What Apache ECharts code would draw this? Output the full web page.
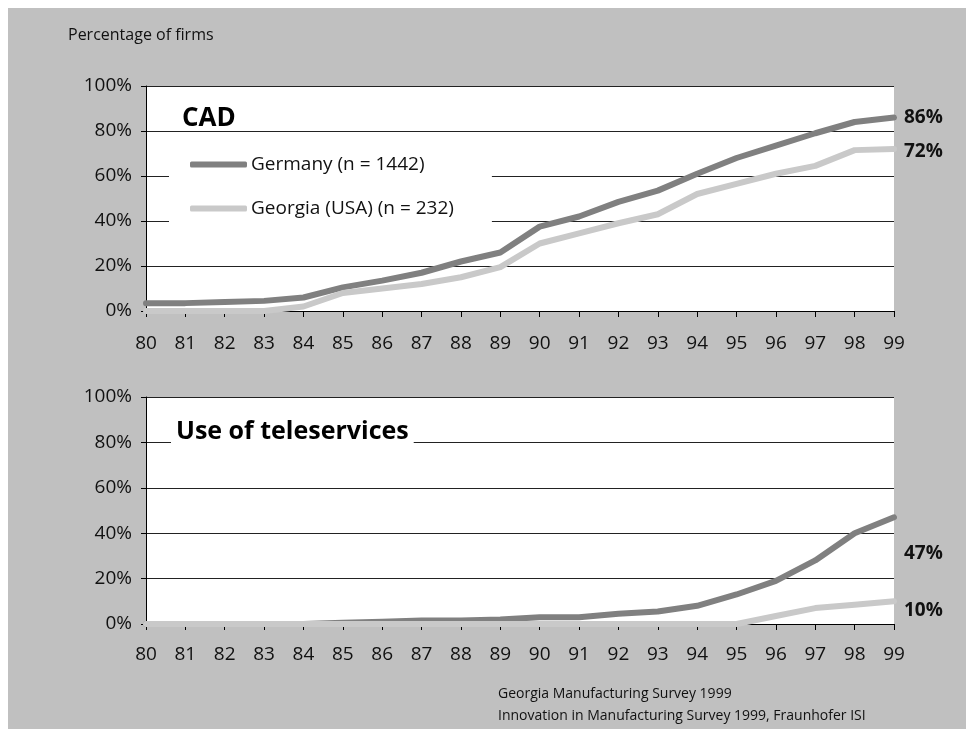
<!DOCTYPE html>
<html>
<head>
<meta charset="utf-8">
<script src="https://cdn.jsdelivr.net/npm/echarts@6/dist/echarts.min.js"></script>
<style>
  html, body { margin: 0; padding: 0; background: #fff; }
  #bg { position: absolute; left: 8px; top: 8px; width: 958px; height: 721px; background: #c0c0c0; }
  #chart { position: absolute; left: 0; top: 0; width: 966px; height: 729px; }
</style>
</head>
<body>
<div id="bg"></div>
<div id="chart"></div>
<script>
// years on the x axis
var years = ['80', '81', '82', '83', '84', '85', '86', '87', '88', '89',
             '90', '91', '92', '93', '94', '95', '96', '97', '98', '99'];
// CAD, share of firms (%)
var cadGermany = [3.5, 3.5, 4, 4.5, 6, 10.5, 13.5, 17, 22, 26, 37.5, 42, 48.5, 53.5, 61, 68, 73.5, 79, 84, 86];
var cadGeorgia = [0, 0, 0, 0, 2, 8, 10, 12, 15, 19.5, 30, 34.5, 39, 43, 52, 56.5, 61, 64.5, 71.5, 72];
// teleservices, share of firms (%)
var teleGermany = [0, 0, 0, 0, 0, 0.5, 1, 1.5, 1.5, 2, 3, 3, 4.5, 5.5, 8, 13, 19, 28, 40, 47];
var teleGeorgia = [0, 0, 0, 0, 0, 0, 0, 0, 0, 0, 0, 0, 0, 0, 0, 0, 3.5, 7, 8.5, 10];
var yTicks = [0, 20, 40, 60, 80, 100];

var nameDE = 'Germany (n = 1442)';
var nameGA = 'Georgia (USA) (n = 232)';
var font = 'Open Sans';

var chart = echarts.init(document.getElementById('chart'));

function xAxis(idx, margin) {
    return {
        type: 'category', gridIndex: idx, data: years, boundaryGap: false,
        axisLine: { lineStyle: { color: '#000', width: 1 } },
        axisTick: { show: true, length: 6, lineStyle: { color: '#000' } },
        axisLabel: { color: '#111', fontFamily: font, fontSize: 19, margin: margin }
    };
}
function yAxis(idx) {
    return {
        type: 'value', gridIndex: idx, min: yTicks[0], max: yTicks[yTicks.length - 1], interval: 20,
        axisLine: { show: true, lineStyle: { color: '#000', width: 1 } },
        axisTick: { show: true, length: 5, lineStyle: { color: '#000' } },
        axisLabel: { color: '#111', fontFamily: font, fontSize: 19, margin: 14, formatter: '{value}%' },
        splitLine: { lineStyle: { color: '#222', width: 1 } }
    };
}
function lineSeries(name, idx, data, color, dy) {
    return {
        name: name, type: 'line', xAxisIndex: idx, yAxisIndex: idx, data: data,
        symbol: 'none', clip: false,
        lineStyle: { color: color, width: 6, cap: 'round', join: 'round' },
        itemStyle: { color: color },
        endLabel: {
            show: true, distance: 10, offset: [0, dy],
            formatter: function (p) { return Math.round(p.value) + '%'; },
            color: '#111', fontFamily: font, fontSize: 19, fontWeight: 'bold'
        }
    };
}

var option = {
    animation: false,
    backgroundColor: 'transparent',
    textStyle: { fontFamily: font },
    title: [
        { text: 'CAD', left: 182, top: 106, padding: 0,
          textStyle: { fontFamily: font, fontSize: 26, fontWeight: 'bold', color: '#000' } },
        { text: 'Use of teleservices', left: 171, top: 419, padding: [0, 5, 0, 5], backgroundColor: '#fff',
          textStyle: { fontFamily: font, fontSize: 25, fontWeight: 'bold', color: '#000' } }
    ],
    legend: {
        data: [nameDE, nameGA], orient: 'vertical', left: 169, top: 137,
        padding: [18, 38, 22, 21], backgroundColor: '#fff',
        icon: 'roundRect', itemWidth: 57, itemHeight: 6, itemGap: 25,
        textStyle: { fontFamily: font, fontSize: 19, color: '#111', padding: [0, 0, 0, -1] }
    },
    grid: [
        { left: 146, top: 86, width: 748, height: 225, show: true, backgroundColor: '#fff', borderWidth: 0 },
        { left: 146, top: 397, width: 748, height: 227, show: true, backgroundColor: '#fff', borderWidth: 0 }
    ],
    xAxis: [xAxis(0, 23), xAxis(1, 21)],
    yAxis: [yAxis(0), yAxis(1)],
    series: [
        lineSeries(nameDE, 0, cadGermany, '#808080', 0),
        lineSeries(nameGA, 0, cadGeorgia, '#c9c9c9', 3),
        lineSeries(nameDE, 1, teleGermany, '#808080', 36),
        lineSeries(nameGA, 1, teleGeorgia, '#c9c9c9', 9)
    ],
    graphic: [
        { type: 'text', left: 68, top: 27,
          style: { text: 'Percentage of firms', font: '16px "Open Sans"', fill: '#111' } },
        { type: 'text', left: 498, top: 683,
          style: { text: 'Georgia Manufacturing Survey 1999\nInnovation in Manufacturing Survey 1999, Fraunhofer ISI',
                   font: '14px "Open Sans"', fill: '#111', lineHeight: 22 } }
    ]
};

chart.setOption(option);
</script>
</body>
</html>
